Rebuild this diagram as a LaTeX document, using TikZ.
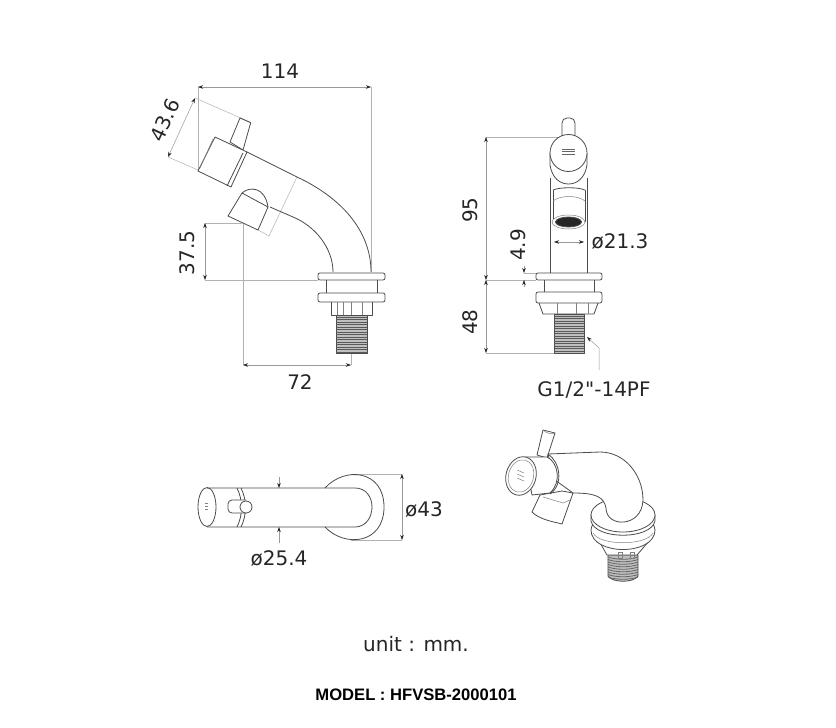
\documentclass[tikz,border=0pt]{standalone}
\usepackage{fontspec}
\setmainfont{DejaVu Sans}
\newfontfamily\plainfont{DejaVu Sans}
\newfontfamily\modelfont{Liberation Sans}
\usetikzlibrary{arrows.meta, positioning, calc}

\begin{document}
\begin{tikzpicture}[
    x=1pt, y=-1pt,
    >={Stealth[length=5pt,width=3.5pt,color=black!85]},
    part/.style={draw=black!70, line width=0.8pt, line join=round},
    light/.style={draw=black!50, line width=0.5pt},
    dim/.style={draw=black!40, line width=0.5pt, <->},
    ext/.style={draw=black!30, line width=0.5pt},
    thread/.style={draw=black!65, line width=1pt},
    dimlabel/.style={font=\fontsize{20}{24}\selectfont, text=black!85, inner sep=0pt}
]
    \useasboundingbox (0,0) rectangle (836,728);
    \fill[white] (0,0) rectangle (836,728);

    % 1. side view
    \draw[ext] (198,87) -- (198,170) (371,87) -- (371,272);
    \draw[ext] (195,98) -- (250,122) (168,157) -- (198,170);
    \draw[ext] (205,223) -- (242,223) (205,280) -- (318,280);
    \draw[ext] (243,223) -- (243,365) (351,353) -- (351,365);
    \draw[ext] (297,177) -- (269,236) -- (258,230);
    \draw[part, fill=white] (240,118) -- (250.7,122.7) -- (243,150) -- (230,142) -- cycle;
    \draw[part] (247,152) -- (297,177) .. controls (340,197) and (371,230) .. (371,272);
    \draw[part] (270,207) -- (293,217) .. controls (315,226) and (333,248) .. (333,272);
    \draw[part, fill=white] (215,137) -- (247,152) -- (231,187) -- (198,171) -- cycle;
    \draw[part] (243,153) -- (227,186);
    \draw[light] (200,168) -- (213,139);
    \draw[part] (242,193) .. controls (250,186) and (265,187) .. (268,207);
    \draw[part, fill=white] (242,193) -- (268,207) -- (258,230) -- (228,216) -- cycle;
    \draw[part, rounded corners=2pt, fill=white] (318,273) rectangle (385,280);
    \draw[part] (326,280) -- (326,293) (377,280) -- (377,293);
    \draw[part, rounded corners=2pt, fill=white] (318,293) rectangle (385,302);
    \draw[part] (331,302) -- (331,315) -- (372,315) -- (372,302);
    \foreach \x in {337,343,351,362} {
        \draw[light] (\x,302) -- (\x,315);
    }
    \draw[part, fill=black!25] (336,315) rectangle (367,353);
    \foreach \y in {317,319.5,...,352} {
        \draw[thread] (336,\y) -- (367,\y);
    }
    \draw[dim] (198,87) -- (371,87);
    \draw[dim] (195,98) -- (168,157);
    \draw[dim] (205,223) -- (205,280);
    \draw[dim] (243,365) -- (351,365);
    \node[dimlabel] (lenA) at (280,71) {114};
    \node[dimlabel, rotate=65] (lenB) at (165,120) {43.6};
    \node[dimlabel, rotate=90] (lenC) at (187,253) {37.5};
    \node[dimlabel] (lenD) at (300,382) {72};

    % 2. front view
    \draw[ext] (486,137) -- (560,137) (486,280) -- (536,280) (486,353) -- (554,353);
    \draw[ext] (524,273) -- (536,273);
    \draw[part, rounded corners=5pt] (562,137) -- (562,118) -- (575,118) -- (575,137);
    \draw[part] (550,178) -- (550,273) (587,178) -- (587,273);
    \draw[part, fill=white] (550,153) -- (550,165) .. controls (552,178) and (560,184) .. (568.5,184)
        .. controls (577,184) and (585,178) .. (587,165) -- (587,153) -- cycle;
    \draw[part, fill=white] (568.5,153) circle (18.5);
    \draw[part] (553,190) .. controls (560,187) and (578,187) .. (585,190);
    \draw[part] (553,190) -- (553,222) (585,190) -- (585,222);
    \draw[light] (553,201) .. controls (560,195) and (578,195) .. (585,201);
    \draw[light, fill=white] (568.5,222) ellipse[x radius=16.5, y radius=7];
    \draw[part, fill=black!85] (568.5,222) ellipse[x radius=13, y radius=5];
    \draw[part, rounded corners=2pt, fill=white] (536,273) rectangle (602,280);
    \draw[part] (544,280) -- (544,292) (594,280) -- (594,292);
    \draw[part, rounded corners=2pt, fill=white] (536,292) rectangle (602,303);
    \draw[part] (539,303) -- (543,314) -- (594,314) -- (598,303);
    \foreach \x in {557,576,588} {
        \draw[light] (\x,303) -- (\x,314);
    }
    \draw[part, fill=black!25] (554,314) rectangle (584,353);
    \foreach \y in {316,318.5,...,352} {
        \draw[thread] (554,\y) -- (584,\y);
    }
    \foreach \y in {149,151.5,154} {
        \draw[light, black!60] (562,\y) -- (575,\y);
    }
    \draw[dim] (486,137) -- (486,280);
    \draw[dim] (486,280) -- (486,353);
    \draw[dim, <-] (524,273) -- (524,266);
    \draw[dim, <-] (524,280) -- (524,287);
    \draw[dim] (554,242) -- (584,242);
    \coordinate (leadA) at (587,337);
    \coordinate (leadB) at (599,348);
    \coordinate (leadC) at (599,370);
    \draw[dim, <-] (leadA) -- (leadB) -- (leadC);
    \node[dimlabel, rotate=90] (lenE) at (470,210) {95};
    \node[dimlabel, rotate=90] (lenF) at (518,245) {4.9};
    \node[dimlabel, rotate=90] (lenG) at (470,322) {48};
    \node[dimlabel] (lenH) at (620,242) {ø21.3};
    \node[dimlabel] (lenI) at (594,390) {\plainfont G1/2"-14PF};

    % 3. top view
    \draw[ext] (351,474) -- (402,474) (351,540) -- (402,540);
    \draw[part] (325,488) .. controls (345,466) and (384,470) .. (384,507)
        .. controls (384,544) and (345,548) .. (325,527);
    \draw[part] (207,488) -- (355,488) .. controls (366,488) and (372,497) .. (372,507)
        .. controls (372,517) and (366,527) .. (355,527) -- (207,527);
    \draw[part] (207,507) ellipse[x radius=9, y radius=19.5];
    \draw[part] (237,488) .. controls (243,500) and (243,515) .. (237,527);
    \draw[part] (241,488) .. controls (247,500) and (247,515) .. (241,527);
    \draw[part, rounded corners=4pt, fill=white] (246,500) -- (228,500) -- (228,513) -- (246,513);
    \draw[part, fill=white] (246,507) circle (6);
    \foreach \y in {503,506,509} {
        \draw[light] (205,\y) -- (208,\y);
    }
    \draw[dim, <-] (279,488) -- (279,477);
    \draw[dim, <-] (279,527) -- (279,543);
    \draw[dim] (402,474) -- (402,540);
    \node[dimlabel] (lenJ) at (424,510) {ø43};
    \node[dimlabel] (lenK) at (279,559) {ø25.4};

    % 4. perspective view
    \draw[part, fill=black!25] (608,555) -- (608,576) .. controls (612,583) and (634,583) .. (638,576) -- (638,555) -- cycle;
    \foreach \y in {557,559.5,...,578} {
        \draw[thread, line width=0.8pt, black!60] (608,\y) .. controls (616,\y+3) and (630,\y+3) .. (638,\y);
    }
    \draw[part, fill=white] (599,541) -- (607,555) -- (637,555) -- (649,541) -- cycle;
    \draw[light] (618,552) rectangle (622,558) (630,552) rectangle (634,558);
    \draw[part, fill=white] (591,530) .. controls (591,556) and (655,556) .. (655,530)
        .. controls (655,510) and (591,510) .. (591,530) -- cycle;
    \draw[light] (593,533) .. controls (600,546) and (646,546) .. (653,533);
    \draw[part, fill=white] (591,515) -- (591,521) .. controls (595,540) and (651,540) .. (655,521) -- (655,515) -- cycle;
    \draw[part, fill=white] (623,515) ellipse[x radius=32, y radius=17];
    \draw[part, fill=white] (543,430) -- (555,433) -- (547,458) -- (537,455) -- cycle;
    \draw[light] (543,430) .. controls (546,433) and (552,435) .. (555,433);
    \draw[part, fill=white] (548,454) -- (600,452) .. controls (625,452) and (643,475) .. (643,500)
        .. controls (642,528) and (606,528) .. (606,508)
        .. controls (604,497) and (596,493) .. (573,493) -- (555,480) -- cycle;
    \draw[part, fill=white] (562,491) -- (573,493) -- (562,524) .. controls (555,522) and (540,520) .. (532,512) -- (540,495) -- cycle;
    \draw[light] (543,497) -- (563,503) -- (570,500);
    \draw[part, fill=white] (525,457) -- (547,457) .. controls (558,462) and (562,482) .. (550,493)
        -- (532,495) -- cycle;
    \draw[part] (548,454) .. controls (560,462) and (564,484) .. (550,494);
    \draw[part, fill=white, rotate around={-15:(521,476)}] (521,476) ellipse[x radius=15, y radius=19.5];
    \draw[light, rotate around={-15:(521,476)}] (521,476) ellipse[x radius=12.5, y radius=16.5];
    \foreach \y in {470,474,478} {
        \draw[light] (517,\y) -- (524,\y+3);
    }

    % 5. notes
    \node[dimlabel] (noteUnit) at (416,644) {unit : mm.};
    \node[inner sep=0pt, font=\modelfont\bfseries\fontsize{16.6}{19}\selectfont] (noteModel) at (416,695) {MODEL : HFVSB-2000101};
\end{tikzpicture}
\end{document}
